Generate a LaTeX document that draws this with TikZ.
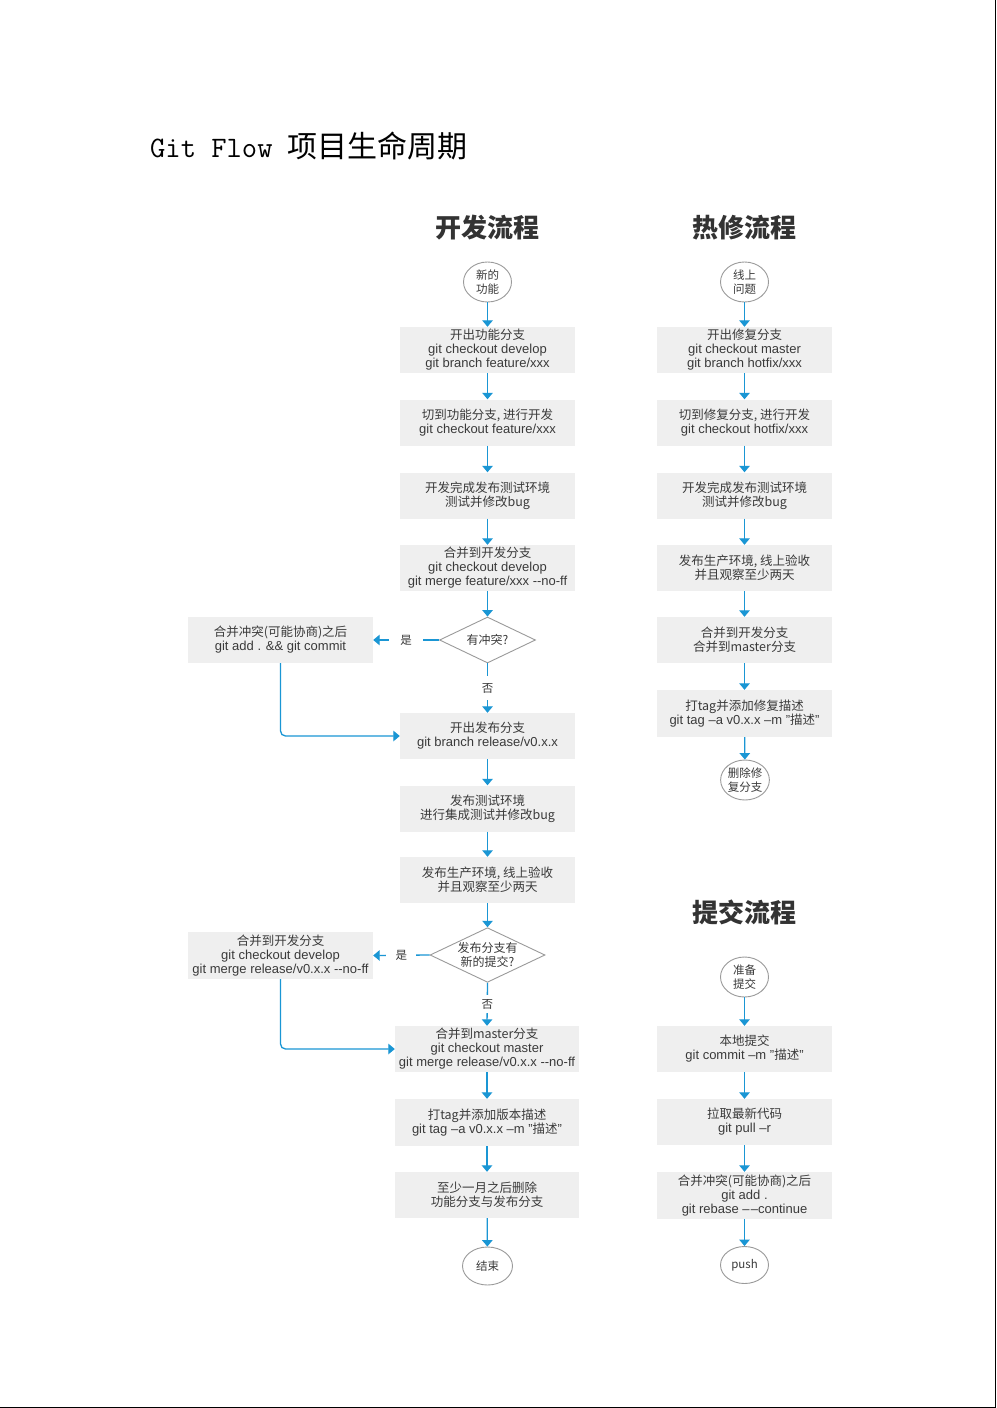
\documentclass[tikz,border=0pt]{standalone}
\usepackage{fontspec}
\setmainfont{Liberation Sans}
\newfontfamily\cjk{Noto Sans CJK SC}
\usetikzlibrary{shapes.geometric,arrows.meta}
\newcommand\zh[1]{{\cjk\fontsize{12.5}{13.5}\selectfont #1}}
\definecolor{flowblue}{HTML}{1A96D4}
\definecolor{boxgray}{HTML}{EFEFEF}
\definecolor{txt}{HTML}{3A3A3A}
\definecolor{ringgray}{HTML}{9A9A9A}
\definecolor{headtxt}{HTML}{333333}
\begin{document}
\begin{tikzpicture}[x=1pt,y=-1pt,
 stepbox/.style={fill=boxgray, minimum width=175pt, minimum height=46pt, align=center, inner sep=0pt, text=txt, font=\fontsize{13}{14}\selectfont},
 widebox/.style={stepbox, minimum width=184pt},
 sidebox/.style={stepbox, minimum width=185pt},
 endnode/.style={ellipse, draw=ringgray, line width=0.9pt, fill=white, minimum width=48pt, minimum height=40pt, inner sep=0pt, align=center, text=txt, font=\fontsize{11.5}{13.5}\selectfont\cjk},
 decision/.style={diamond, aspect=2, draw=ringgray, line width=0.9pt, fill=white, inner sep=0pt, align=center, text=txt, font=\fontsize{12}{13.5}\selectfont\cjk},
 flow/.style={draw=flowblue, line width=1.3pt, -{Triangle[width=10.5pt,length=6.5pt]}},
 heading/.style={text=headtxt, inner sep=0pt, font=\fontsize{26}{30}\selectfont\cjk\bfseries},
 lbl/.style={fill=white, text=txt, font=\fontsize{11.5}{13}\selectfont\cjk, inner sep=0pt}
]
\useasboundingbox (0,0) rectangle (996,1408);
\fill[white] (0,0) rectangle (996,1408);
\fill[black] (994.5,0) rectangle (996,1408);
\fill[black] (0,1406.5) rectangle (996,1408);

% title
\node[anchor=base west, inner sep=0pt, text=black] (title) at (150,157)
  {\fontsize{29.7}{34}\selectfont\ttfamily Git Flow \fontsize{30}{34}\selectfont\cjk 项目生命周期};

% headings
\node[heading] (h1) at (487.5,228) {开发流程};
\node[heading] (h2) at (744.5,228) {热修流程};
\node[heading] (h3) at (744.5,912) {提交流程};

% development flow
\node[endnode] (S1) at (487.5,282) {新的\\功能};
\node[stepbox] (B1) at (487.5,350) {\zh{开出功能分支}\\git checkout develop\\git branch feature/xxx};
\node[stepbox] (B2) at (487.5,422.5) {\zh{切到功能分支, 进行开发}\\git checkout feature/xxx};
\node[stepbox] (B3) at (487.5,495.5) {\zh{开发完成发布测试环境}\\\zh{测试并修改bug}};
\node[stepbox] (B4) at (487.5,568) {\zh{合并到开发分支}\\git checkout develop\\git merge feature/xxx -{}-no-ff};
\node[decision, minimum width=96pt, minimum height=46pt] (D1) at (487.5,640) {有冲突?};
\node[sidebox] (L1) at (280.5,640) {\zh{合并冲突(可能协商)之后}\\git add . \&\& git commit};
\node[stepbox] (B5) at (487.5,736) {\zh{开出发布分支}\\git branch release/v0.x.x};
\node[stepbox] (B6) at (487.5,808.5) {\zh{发布测试环境}\\\zh{进行集成测试并修改bug}};
\node[stepbox] (B7) at (487.5,880) {\zh{发布生产环境, 线上验收}\\\zh{并且观察至少两天}};
\node[decision, minimum width=115pt, minimum height=54pt] (D2) at (487.5,955) {发布分支有\\新的提交?};
\node[sidebox, minimum height=47pt] (L2) at (280.5,955.5) {\zh{合并到开发分支}\\git checkout develop\\git merge release/v0.x.x -{}-no-ff};
\node[widebox] (B8) at (487,1049) {\zh{合并到master分支}\\git checkout master\\git merge release/v0.x.x -{}-no-ff};
\node[widebox, minimum height=47pt] (B9) at (487,1122.5) {\zh{打tag并添加版本描述}\\git tag –a v0.x.x –m "\zh{描述}"};
\node[widebox] (B10) at (487,1195) {\zh{至少一月之后删除}\\\zh{功能分支与发布分支}};
\node[endnode, minimum width=50pt, minimum height=38pt] (E1) at (487.5,1266) {结束};

\draw[flow] (S1) -- (B1);
\draw[flow] (B1) -- (B2);
\draw[flow] (B2) -- (B3);
\draw[flow] (B3) -- (B4);
\draw[flow] (B4) -- (D1);
\draw[flow] (D1.west) -- node[lbl, minimum width=34pt, minimum height=14pt] {是} (L1.east);
\draw[flow] (D1.south) -- node[lbl, minimum width=14pt, minimum height=24pt] {否} (B5.north);
\draw[flow, rounded corners=5pt] (L1.south) |- (B5.west);
\draw[flow] (B5) -- (B6);
\draw[flow] (B6) -- (B7);
\draw[flow] (B7) -- (D2);
\draw[flow] (D2.west) -- node[lbl, minimum width=30pt, minimum height=14pt] {是} (L2.east);
\draw[flow] (D2.south) -- node[lbl, minimum width=14pt, minimum height=18pt] {否} (B8.north);
\draw[flow, rounded corners=5pt] (L2.south) |- (B8.west);
\draw[flow] (B8) -- (B9);
\draw[flow] (B9) -- (B10);
\draw[flow] (B10) -- (E1);

% hotfix flow
\node[endnode] (S2) at (744.5,282) {线上\\问题};
\node[stepbox] (R1) at (744.5,350) {\zh{开出修复分支}\\git checkout master\\git branch hotfix/xxx};
\node[stepbox] (R2) at (744.5,422.5) {\zh{切到修复分支, 进行开发}\\git checkout hotfix/xxx};
\node[stepbox] (R3) at (744.5,495.5) {\zh{开发完成发布测试环境}\\\zh{测试并修改bug}};
\node[stepbox] (R4) at (744.5,568) {\zh{发布生产环境, 线上验收}\\\zh{并且观察至少两天}};
\node[stepbox] (R5) at (744.5,640) {\zh{合并到开发分支}\\\zh{合并到master分支}};
\node[stepbox, minimum height=47pt] (R6) at (744.5,713.5) {\zh{打tag并添加修复描述}\\git tag –a v0.x.x –m "\zh{描述}"};
\node[endnode] (E2) at (745,780) {删除修\\复分支};

\draw[flow] (S2) -- (R1);
\draw[flow] (R1) -- (R2);
\draw[flow] (R2) -- (R3);
\draw[flow] (R3) -- (R4);
\draw[flow] (R4) -- (R5);
\draw[flow] (R5) -- (R6);
\draw[flow] (R6) -- (E2);

% commit flow
\node[endnode] (S3) at (744.5,977) {准备\\提交};
\node[stepbox] (C1) at (744.5,1049) {\zh{本地提交}\\git commit –m "\zh{描述}"};
\node[stepbox] (C2) at (744.5,1122) {\zh{拉取最新代码}\\git pull –r};
\node[stepbox, minimum height=47pt] (C3) at (744.5,1195.5) {\zh{合并冲突(可能协商)之后}\\git add .\\git rebase –\kern1.2pt–continue};
\node[endnode, minimum height=37pt] (E3) at (744.5,1265) {push};

\draw[flow] (S3) -- (C1);
\draw[flow] (C1) -- (C2);
\draw[flow] (C2) -- (C3);
\draw[flow] (C3) -- (E3);
\end{tikzpicture}
\end{document}
